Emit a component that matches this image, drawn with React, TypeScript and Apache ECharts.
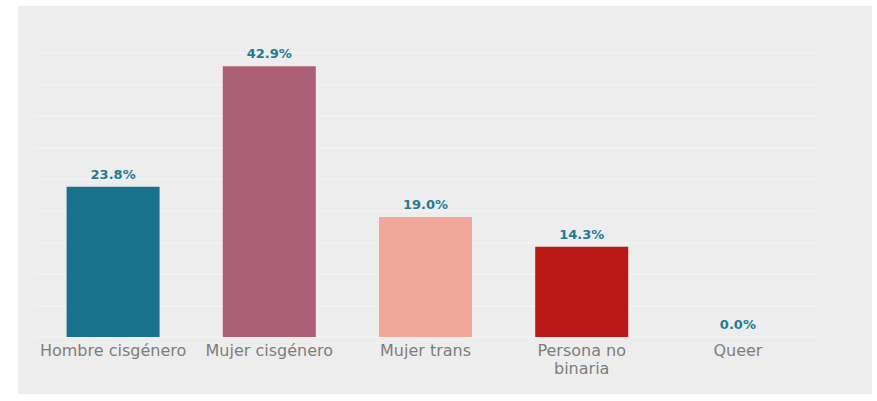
import React, { useEffect, useRef } from "react";
import * as echarts from "echarts";

const categories = ["Hombre cisgénero", "Mujer cisgénero", "Mujer trans", "Persona no\nbinaria", "Queer"];
const values = [23.8, 42.9, 19.0, 14.3, 0.0];
const barColors = ["#18728c", "#ab6077", "#f2a898", "#bb1818", "#888888"];

export default function App() {
  const ref = useRef<HTMLDivElement>(null);
  useEffect(() => {
    if (!ref.current) return;
    const chart = echarts.init(ref.current, null, { renderer: "svg" });
    chart.setOption({
      animation: false,
      backgroundColor: "#ffffff",
      graphic: [
        {
          type: "rect",
          z: -10,
          silent: true,
          shape: { x: 18, y: 6, width: 854, height: 388 },
          style: { fill: "#ededed" },
        },
      ],
      grid: { left: 35, right: 61, top: 53, bottom: 64 },
      xAxis: {
        type: "category",
        data: categories,
        axisLine: { show: false },
        axisTick: { show: false },
        axisLabel: {
          color: "#7d7d7d",
          fontFamily: "DejaVu Sans",
          fontSize: 16,
          margin: 4,
          lineHeight: 18,
          interval: 0,
        },
      },
      yAxis: {
        type: "value",
        min: 0,
        max: 45,
        interval: 5,
        axisLabel: { show: false },
        axisLine: { show: false },
        axisTick: { show: false },
        splitLine: { lineStyle: { color: "#f2f2f2", width: 1.5 } },
      },
      series: [
        {
          type: "bar",
          barWidth: 93,
          data: values.map((v, i) => ({ value: v, itemStyle: { color: barColors[i] } })),
          label: {
            show: true,
            position: "top",
            distance: 6,
            color: "#237a94",
            fontFamily: "DejaVu Sans",
            fontWeight: "bold",
            fontSize: 13,
            formatter: (p: any) => p.value.toFixed(1) + "%",
          },
        },
      ],
    });
    return () => chart.dispose();
  }, []);
  return <div ref={ref} style={{ position: "fixed", left: 0, top: 0, width: 877, height: 401 }} />;
}
